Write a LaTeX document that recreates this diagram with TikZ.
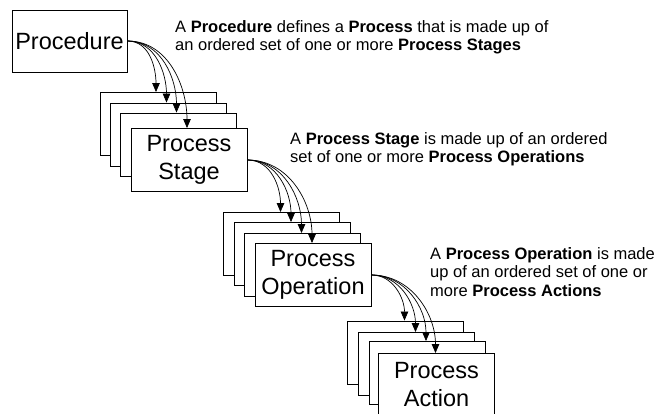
\documentclass[tikz,border=0pt]{standalone}
\usepackage{fontspec}
\setmainfont{Liberation Sans}
\usetikzlibrary{arrows.meta}
\begin{document}
\begin{tikzpicture}[x=1pt,y=-1pt,
 box/.style={draw=black,fill=white,line width=0.9pt,minimum width=116pt,minimum height=63pt,inner sep=0pt,align=center,font=\fontsize{23.5}{28}\selectfont},
 link/.style={line width=0.7pt,-{Triangle[length=9pt,width=7.5pt]}},
 note/.style={anchor=north west,align=left,inner sep=0pt,font=\fontsize{16.5}{18.5}\selectfont}]
\useasboundingbox (0,0) rectangle (657,413);
% Procedure
\node[box,minimum width=115pt,minimum height=62pt] (P) at (69.5,41) {Procedure};
% Stage stack
\node[box] (S1) at (158,124) {};
\node[box] (S2) at (168.5,134.5) {};
\node[box] (S3) at (178.5,144.5) {};
\node[box] (S4) at (189,160) {Process\\Stage};
% Operation stack
\node[box] (O1) at (281.5,244) {};
\node[box] (O2) at (292,254) {};
\node[box] (O3) at (302.5,265) {};
\node[box] (O4) at (313,275) {Process\\Operation};
% Action stack
\node[box] (A1) at (405.5,352.5) {};
\node[box] (A2) at (416.5,364) {};
\node[box] (A3) at (427,373) {};
\node[box] (A4) at (436.5,385) {Process\\Action};
% connectors
\foreach \i in {1,...,4} {
  \draw[link] (P.east) to[out=0,in=90] ([xshift=-2pt]S\i.north);
  \draw[link] (S4.east) to[out=0,in=90] ([xshift=-1pt]O\i.north);
  \draw[link] (O4.east) to[out=0,in=90] ([xshift=-1pt]A\i.north);
}
% notes
\node[note] (n1) at (175,20) {A \textbf{Procedure} defines a \textbf{Process} that is made up of\\an ordered set of one or more \textbf{Process Stages}};
\node[note] (n2) at (290,132) {A \textbf{Process Stage} is made up of an ordered\\set of one or more \textbf{Process Operations}};
\node[note] (n3) at (430,247) {A \textbf{Process Operation} is made\\up of an ordered set of one or\\more \textbf{Process Actions}};
\end{tikzpicture}
\end{document}
